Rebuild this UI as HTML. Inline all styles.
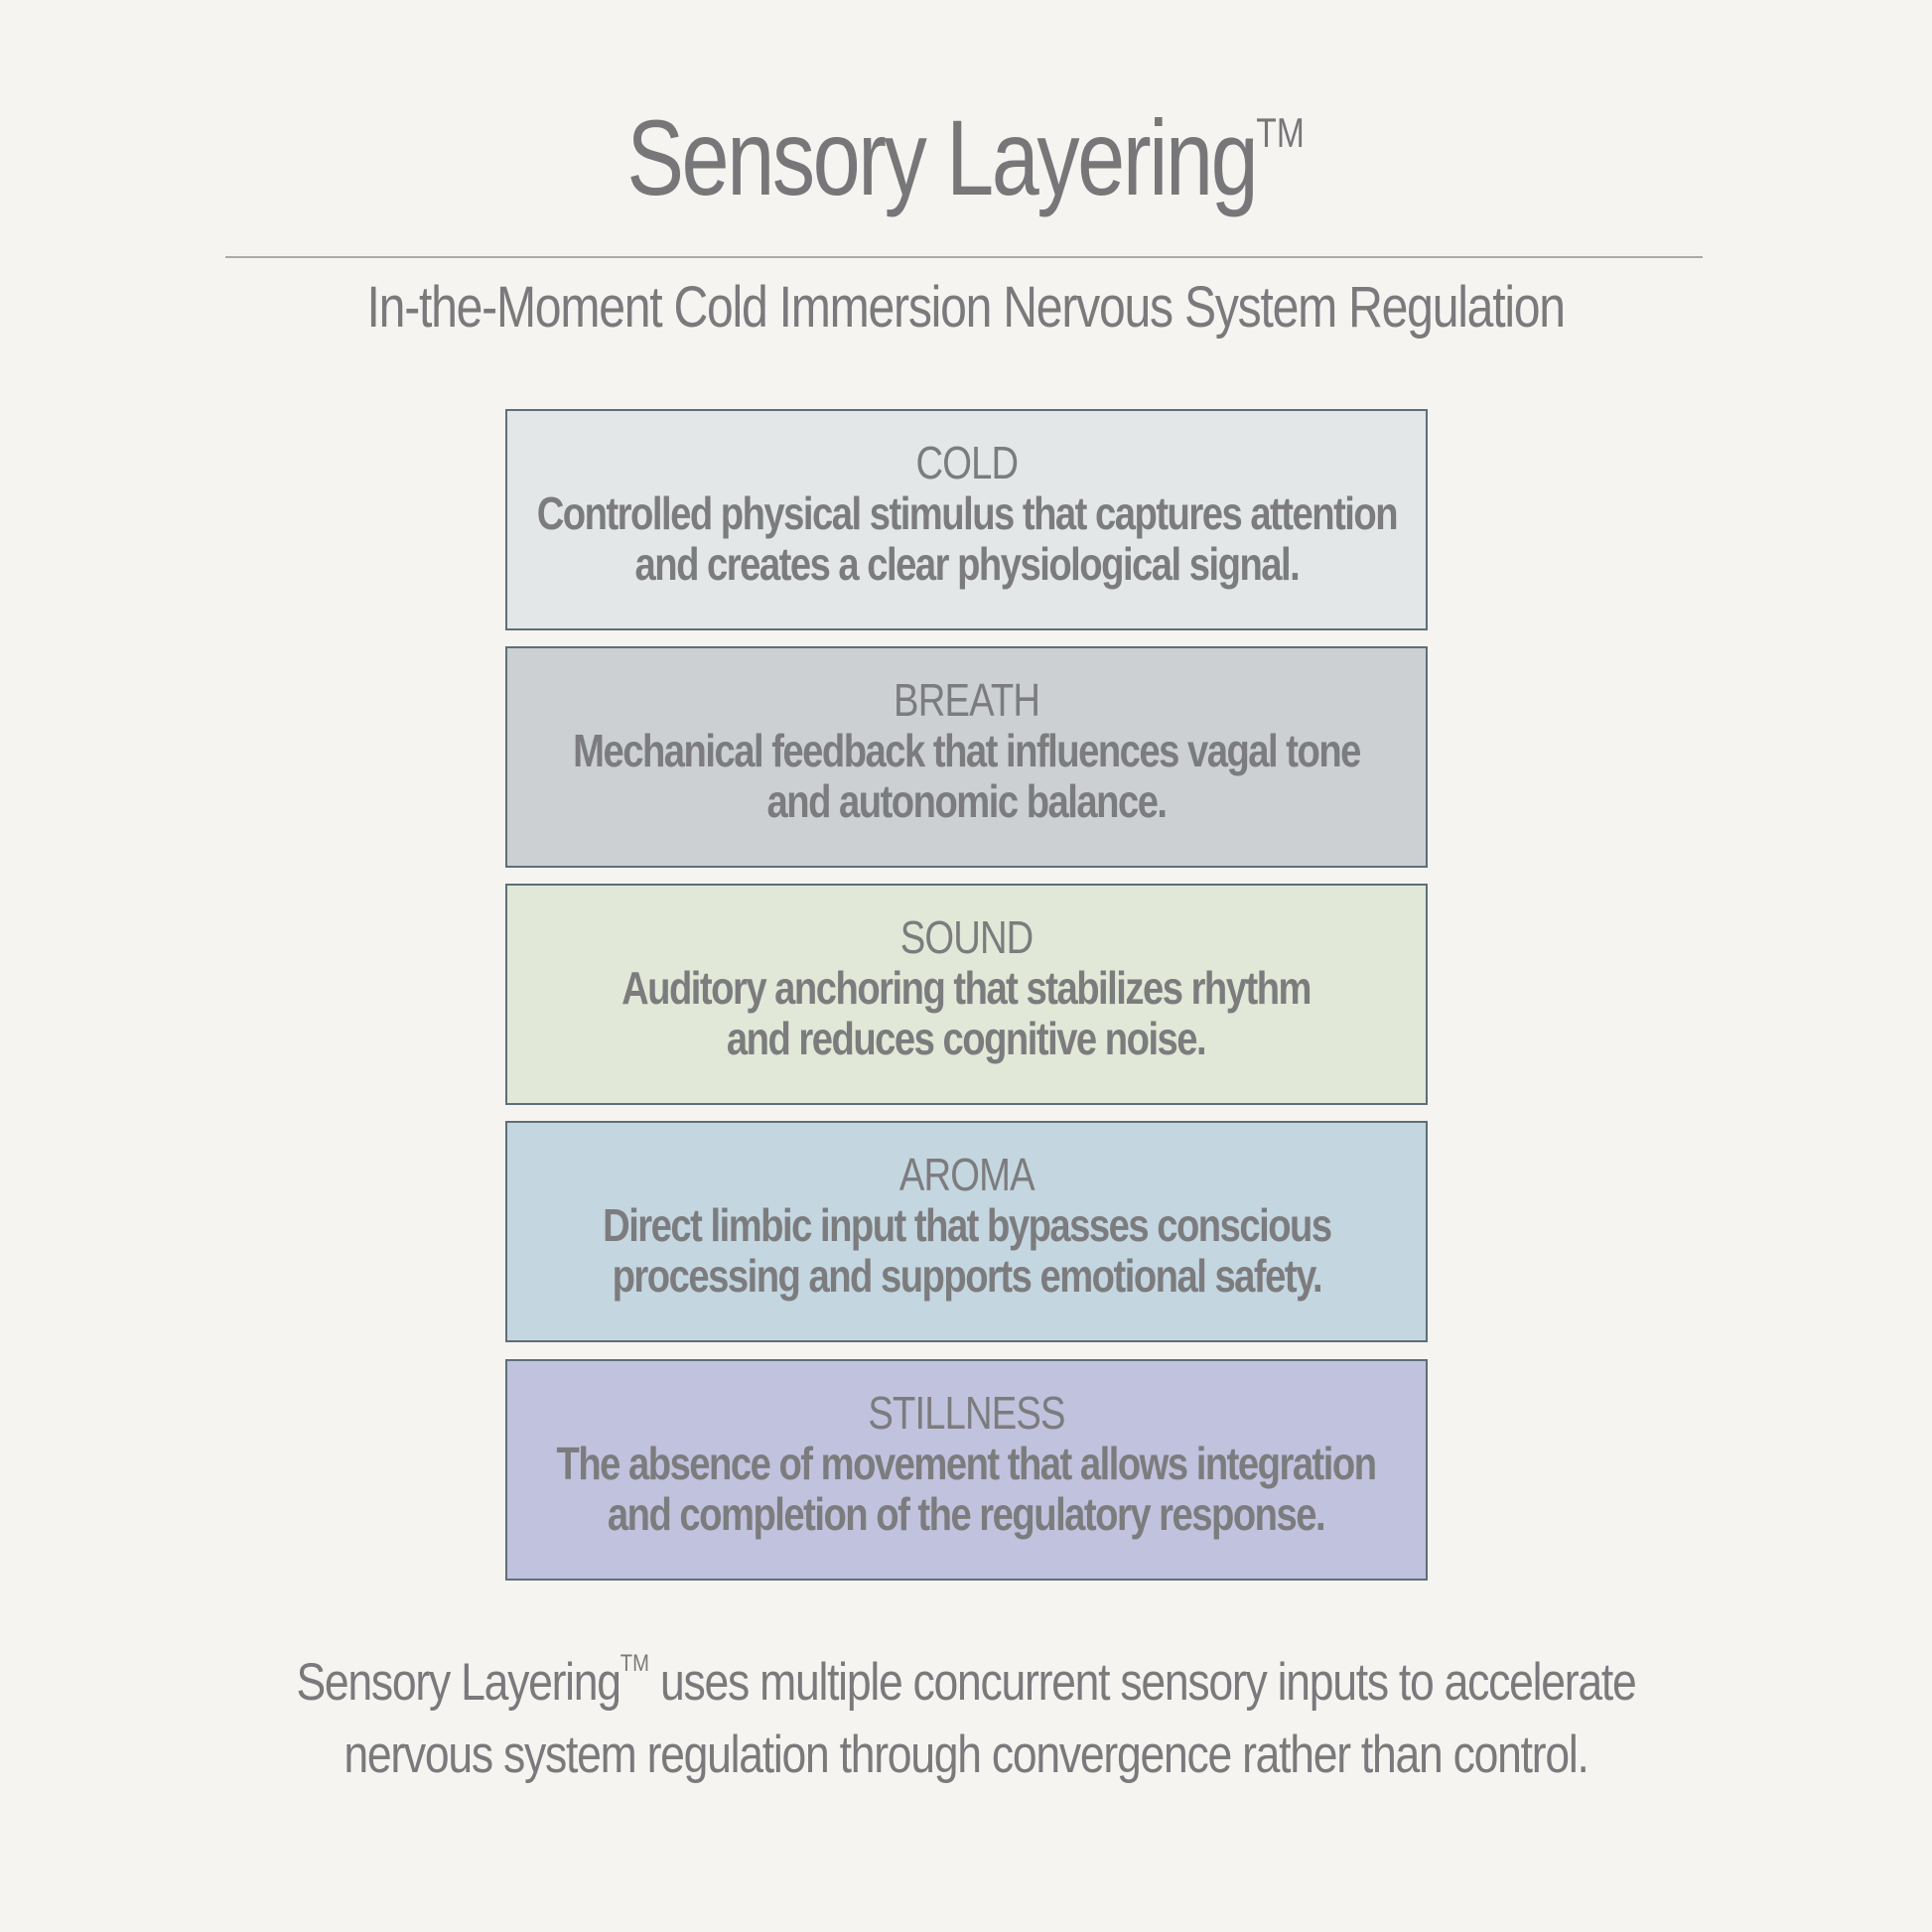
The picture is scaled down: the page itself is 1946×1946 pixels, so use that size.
<!DOCTYPE html>
<html><head><meta charset="utf-8"><style>
html,body{margin:0;padding:0}
body{width:1946px;height:1946px;background:#f6f4f1;position:relative;overflow:hidden;font-family:"Liberation Sans",sans-serif;color:#7a7a7c}
.c{position:absolute;left:0;width:1946px;white-space:nowrap;display:flex;justify-content:center}
.s{display:inline-block;transform-origin:50% 50%;text-align:center;white-space:nowrap;flex:none}
.title{top:96px;font-size:108px;letter-spacing:-3px;color:#77777a}
.title .s{transform:scaleX(0.8)}
.title sup{font-size:42px;vertical-align:top;position:relative;top:14px;letter-spacing:0}
.rule{position:absolute;left:227px;width:1488px;top:258px;height:2px;background:#a9a9a9}
.sub{top:276px;font-size:58px;letter-spacing:-1.5px}
.sub .s{transform:scaleX(0.83)}
.box{position:absolute;left:509px;width:925px;height:219px;border:2px solid #5d6f78;font-weight:bold;font-size:46px;line-height:51px;letter-spacing:-1.8px;color:#7c7c7e;box-sizing:content-box;white-space:nowrap}
.box .w{width:925px;display:flex;justify-content:center}
.box .s{transform:scaleX(0.83)}
.box .h{font-weight:normal;margin-top:27px;letter-spacing:-1px}
.foot{top:1658px;font-size:53px;line-height:73px;letter-spacing:-1.5px}
.foot .s{transform:scaleX(0.84)}
.foot sup{font-size:24px;vertical-align:top;position:relative;top:-2px;letter-spacing:0;line-height:40px}
</style></head><body>
<div class="c title"><span class="s">Sensory Layering<sup>TM</sup></span></div>
<div class="rule"></div>
<div class="c sub"><span class="s">In-the-Moment Cold Immersion Nervous System Regulation</span></div>
<div class="box" style="top:412px;background:#e3e7e7"><div class="w h"><span class="s">COLD</span></div><div class="w"><span class="s">Controlled physical stimulus that captures attention<br>and creates a clear physiological signal.</span></div></div>
<div class="box" style="top:651px;background:#ccd0d3"><div class="w h"><span class="s">BREATH</span></div><div class="w"><span class="s">Mechanical feedback that influences vagal tone<br>and autonomic balance.</span></div></div>
<div class="box" style="top:890px;background:#e1e8d7"><div class="w h"><span class="s">SOUND</span></div><div class="w"><span class="s">Auditory anchoring that stabilizes rhythm<br>and reduces cognitive noise.</span></div></div>
<div class="box" style="top:1129px;background:#c4d6e0"><div class="w h"><span class="s">AROMA</span></div><div class="w"><span class="s">Direct limbic input that bypasses conscious<br>processing and supports emotional safety.</span></div></div>
<div class="box" style="top:1369px;background:#c1c2dd"><div class="w h"><span class="s">STILLNESS</span></div><div class="w"><span class="s">The absence of movement that allows integration<br>and completion of the regulatory response.</span></div></div>
<div class="c foot"><span class="s">Sensory Layering<sup>TM</sup> uses multiple concurrent sensory inputs to accelerate<br>nervous system regulation through convergence rather than control.</span></div>
</body></html>
